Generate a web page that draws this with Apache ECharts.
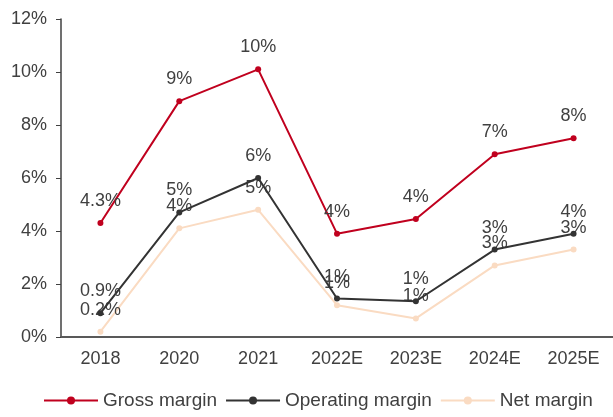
<!DOCTYPE html>
<html><head><meta charset="utf-8">
<script src="https://cdn.jsdelivr.net/npm/echarts@6/dist/echarts.min.js"></script>
<style>html,body{margin:0;padding:0;background:#fff}#c{width:613px;height:417px}</style>
</head><body><div id="c"></div>
<script>
var categories = ['2018','2020','2021','2022E','2023E','2024E','2025E'];
var grossMargin = [4.3, 8.9, 10.1, 3.9, 4.45, 6.9, 7.5];
var operatingMargin = [0.9, 4.7, 6.0, 1.45, 1.35, 3.3, 3.9];
var netMargin = [0.2, 4.1, 4.8, 1.2, 0.7, 2.7, 3.3];
var yTicks = [0, 2, 4, 6, 8, 10, 12];

function fmt(p){
  var v = p.value;
  if (p.dataIndex === 0) return v.toFixed(1) + '%';
  return Math.round(v) + '%';
}
var font = 'Liberation Sans, Arial, sans-serif';
var chart = echarts.init(document.getElementById('c'));
function mk(name, data, color, z){
  return {
    name: name, type: 'line', data: data, z: z,
    symbol: 'circle', symbolSize: 6,
    lineStyle: {color: color, width: 2},
    itemStyle: {color: color},
    label: {show: true, position: 'top', distance: 10, formatter: fmt,
            color: '#404040', fontSize: 18, fontFamily: font},
    animation: false
  };
}
chart.setOption({
  animation: false,
  grid: {left: 61, right: 0, top: 19, bottom: 80},
  legend: {
    bottom: 2, left: 38, itemWidth: 54, itemHeight: 10, itemGap: 8,
    textStyle: {color: '#404040', fontSize: 19, fontFamily: font},
    data: ['Gross margin', 'Operating margin', 'Net margin']
  },
  xAxis: {
    type: 'category', data: categories, boundaryGap: true,
    axisLine: {lineStyle: {color: '#595959', width: 2}},
    axisTick: {show: false},
    axisLabel: {color: '#404040', fontSize: 18, fontFamily: font, margin: 13}
  },
  yAxis: {
    type: 'value', min: 0, max: 12, interval: 2,
    axisLine: {show: true, lineStyle: {color: '#404040', width: 1.5}},
    axisTick: {show: true, inside: false, length: 5, lineStyle: {color: '#404040'}},
    splitLine: {show: false},
    axisLabel: {color: '#404040', fontSize: 18, fontFamily: font, margin: 14,
      formatter: function(v){ return yTicks.indexOf(v) >= 0 ? v + '%' : ''; }}
  },
  series: [
    mk('Gross margin', grossMargin, '#C0001E', 3),
    mk('Operating margin', operatingMargin, '#333333', 4),
    mk('Net margin', netMargin, '#FADBC2', 2)
  ]
});
</script></body></html>
